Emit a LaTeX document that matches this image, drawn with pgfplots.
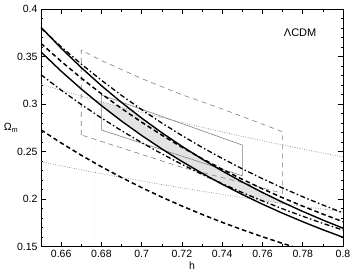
\documentclass[border=0pt]{standalone}
\usepackage{fontspec}
\setmainfont{Liberation Sans}
\usepackage{pgfplots}
\pgfplotsset{compat=1.18}
\begin{document}
\begin{tikzpicture}
\begin{axis}[
  at={(0,0)}, anchor=south west,
  scale only axis, width=302pt, height=237.5pt,
  xmin=0.65, xmax=0.8, ymin=0.15, ymax=0.4,
  xtick={0.66,0.68,0.70,0.72,0.74,0.76,0.78,0.80},
  xticklabels={0.66,0.68,0.7,0.72,0.74,0.76,0.78,0.8},
  minor xtick={0.65,0.67,0.69,0.71,0.73,0.75,0.77,0.79},
  ytick={0.15,0.2,0.25,0.3,0.35,0.4},
  yticklabels={0.15,0.2,0.25,0.3,0.35,0.4},
  minor ytick={0.16,0.17,0.18,0.19,0.21,0.22,0.23,0.24,0.26,0.27,0.28,0.29,0.31,0.32,0.33,0.34,0.36,0.37,0.38,0.39},
  tick align=inside, tick pos=both,
  major tick length=5pt, minor tick length=2.5pt,
  tick style={black, line width=0.6pt},
  axis line style={line width=0.9pt},
  ticklabel style={font=\fontsize{10.5}{12}\selectfont},
  xlabel={h}, ylabel={Ω\textsubscript{m}},
  xlabel style={font=\fontsize{10.5}{12}\selectfont, at={(axis description cs:0.5,0)}, anchor=center, yshift=-19pt},
  ylabel style={font=\fontsize{10.5}{12}\selectfont, at={(axis description cs:0,0.5)}, anchor=center, rotate=-90, xshift=-30pt},
  clip=true,
]
% shaded allowed region
\addplot[draw=none, fill=gray!22] coordinates {
(0.6765,0.3047) (0.68,0.30258) (0.69,0.29685) (0.6946,0.2943) (0.70,0.28537) (0.71,0.27001) (0.72,0.25568) (0.73,0.24229) (0.74,0.22977) (0.75,0.21805) (0.76,0.20707) (0.77,0.19677) (0.772,0.1948)
(0.77,0.19544) (0.76,0.19853) (0.7546,0.2003) (0.75,0.20492) (0.74,0.21576) (0.73,0.22733) (0.72,0.23970) (0.71,0.25292) (0.70,0.26708) (0.69,0.28225) (0.68,0.29853) (0.6765,0.3047)
} \closedcycle;
% thin gray dotted lines
\addplot[gray, line width=0.6pt, dash pattern=on 0.8pt off 1.6pt] coordinates {
(0.65,0.321) (0.66,0.31464) (0.67,0.30851) (0.68,0.30258) (0.69,0.29685) (0.70,0.29130) (0.71,0.28594) (0.72,0.28075) (0.73,0.27572) (0.74,0.27085) (0.75,0.26613) (0.76,0.26155) (0.77,0.25711) (0.78,0.25280) (0.79,0.24861) (0.80,0.24455)};
\addplot[gray, line width=0.6pt, dash pattern=on 0.8pt off 1.6pt] coordinates {
(0.65,0.2395) (0.66,0.23515) (0.67,0.23095) (0.68,0.22688) (0.69,0.22294) (0.70,0.21912) (0.71,0.21542) (0.72,0.21184) (0.73,0.20836) (0.74,0.20499) (0.75,0.20171) (0.76,0.19853) (0.77,0.19544) (0.78,0.19244) (0.79,0.18952) (0.80,0.18668)};
% thin gray dashed box
\addplot[gray, line width=0.6pt, dash pattern=on 5pt off 4pt] coordinates {
(0.67,0.2676) (0.67,0.357) (0.68,0.346) (0.70,0.327) (0.72,0.310) (0.74,0.295) (0.76,0.279) (0.77,0.271) (0.77,0.2062) (0.75,0.2175) (0.72,0.2335) (0.69,0.254) (0.67,0.2676)};
% thin gray solid box
\addplot[gray, line width=0.6pt] coordinates {
(0.68,0.2728) (0.68,0.3097) (0.75,0.257) (0.75,0.2247) (0.68,0.2728)};
% thick dotted-dashed lines
\addplot[black, line width=1.3pt, dash pattern=on 5pt off 2.5pt on 1.5pt off 2.5pt] coordinates {
(0.65,0.380) (0.66,0.36050) (0.67,0.34228) (0.68,0.32522) (0.69,0.30925) (0.70,0.29427) (0.71,0.28022) (0.72,0.26701) (0.73,0.25461) (0.74,0.24293) (0.75,0.23194) (0.76,0.22158) (0.77,0.21181) (0.78,0.20259) (0.79,0.19387) (0.80,0.18564)};
\addplot[black, line width=1.3pt, dash pattern=on 5pt off 2.5pt on 1.5pt off 2.5pt] coordinates {
(0.65,0.331) (0.66,0.31483) (0.67,0.29968) (0.68,0.28547) (0.69,0.27212) (0.70,0.25957) (0.71,0.24777) (0.72,0.23667) (0.73,0.22620) (0.74,0.21632) (0.75,0.20701) (0.76,0.19821) (0.77,0.18989) (0.78,0.18202) (0.79,0.17457) (0.80,0.16751)};
% thick dashed lines
\addplot[black, line width=1.5pt, dash pattern=on 4.5pt off 3pt] coordinates {
(0.65,0.364) (0.66,0.34511) (0.67,0.32747) (0.68,0.31097) (0.69,0.29552) (0.70,0.28104) (0.71,0.26747) (0.72,0.25473) (0.73,0.24276) (0.74,0.23150) (0.75,0.22090) (0.76,0.21093) (0.77,0.20152) (0.78,0.19265) (0.79,0.18427) (0.80,0.17635)};
\addplot[black, line width=1.5pt, dash pattern=on 4.5pt off 3pt] coordinates {
(0.65,0.273) (0.66,0.25919) (0.67,0.24627) (0.68,0.23417) (0.69,0.22283) (0.70,0.21219) (0.71,0.20220) (0.72,0.19281) (0.73,0.18398) (0.74,0.17566) (0.75,0.16783) (0.76,0.16044) (0.77,0.15346) (0.78,0.14687)};
% thick solid lines
\addplot[black, line width=1.4pt] coordinates {
(0.65,0.381) (0.66,0.35897) (0.67,0.33853) (0.68,0.31953) (0.69,0.30184) (0.70,0.28537) (0.71,0.27001) (0.72,0.25568) (0.73,0.24229) (0.74,0.22977) (0.75,0.21805) (0.76,0.20707) (0.77,0.19677) (0.78,0.18712) (0.79,0.17805) (0.80,0.16952)};
\addplot[black, line width=1.4pt] coordinates {
(0.65,0.355) (0.66,0.33479) (0.67,0.31600) (0.68,0.29853) (0.69,0.28225) (0.70,0.26708) (0.71,0.25292) (0.72,0.23970) (0.73,0.22733) (0.74,0.21576) (0.75,0.20492) (0.76,0.19476) (0.77,0.18522) (0.78,0.17630) (0.79,0.16785) (0.80,0.15994)};
\node[font=\fontsize{11}{13}\selectfont] at (axis cs:0.7787,0.375) {ΛCDM};
\end{axis}
\pgfresetboundingbox
\path[use as bounding box] (-41pt,-26.3pt) rectangle (312pt,246.7pt);
\end{tikzpicture}
\end{document}
